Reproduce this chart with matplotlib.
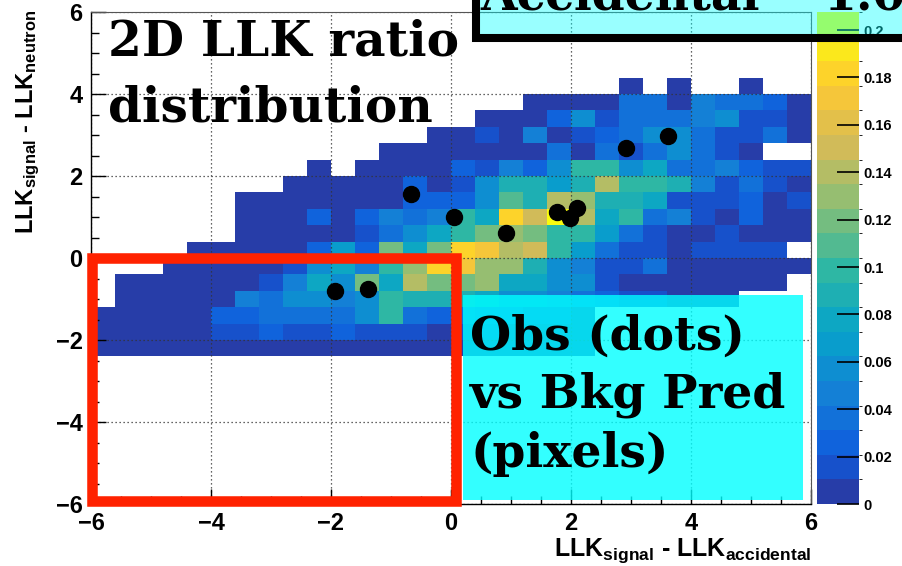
import numpy as np
import matplotlib
matplotlib.use("Agg")
import matplotlib.pyplot as plt
from matplotlib.colors import LinearSegmentedColormap, ListedColormap, BoundaryNorm
from matplotlib.patches import Rectangle
from matplotlib.ticker import MultipleLocator, FuncFormatter

plt.rcParams["mathtext.fontset"] = "custom"
plt.rcParams["mathtext.rm"] = "Liberation Sans:bold"
plt.rcParams["mathtext.it"] = "Liberation Sans:bold"
plt.rcParams["mathtext.bf"] = "Liberation Sans:bold"

# ---- data -----------------------------------------------------------------
# 2D histogram binning: 0.4 x 0.4 bins
x_edges = np.arange(-6.0, 6.0001, 0.4)
y_edges = np.arange(-2.4, 4.4001, 0.4)

# background prediction per bin, one row per y bin (bottom row first)
bkg_pred = [
    [.005, .005, .005, .005, .005, .005, .005, .005, .005, .005, .005, .005, .005, .005, .005, .005, .005, .005, .005, .005, .005, 0, 0, 0, 0, 0, 0, 0, 0, 0],
    [.005, .005, .005, .005, .005, .016, .016, .026, .016, .016, .026, .016, .016, .016, .005, .016, .016, .005, .005, .005, .005, 0, 0, 0, 0, 0, 0, 0, 0, 0],
    [.005, .005, .005, .005, .005, .026, .026, .037, .037, .037, .037, .057, .099, .037, .026, .037, .026, .026, .016, .016, .005, 0, 0, 0, 0, 0, 0, 0, 0, 0],
    [0, .005, .005, .005, .005, .005, .047, .037, .057, .057, .047, .057, .099, .089, .089, .089, .078, .057, .057, .047, .037, .026, .016, .016, .005, .005, .005, 0, 0, 0],
    [0, .005, .005, .005, .005, .005, .005, .016, .047, .078, .057, .120, .078, .141, .120, .120, .131, .078, .078, .057, .057, .016, .005, .005, .005, .005, .005, .005, .005, 0],
    [0, 0, 0, .005, .005, .005, .005, .005, .016, .057, .078, .047, .099, .131, .183, .172, .131, .131, .089, .057, .047, .016, .016, .037, .005, .005, .005, .005, .005, .005],
    [0, 0, 0, 0, .005, .005, .005, .005, .005, .026, .068, .026, .120, .078, .120, .183, .172, .141, .152, .099, .068, .037, .016, .016, .005, .016, .016, .016, .016, 0],
    [0, 0, 0, 0, 0, 0, .005, .005, .005, .005, .005, .016, .037, .057, .078, .099, .120, .131, .120, .099, .099, .068, .037, .016, .005, .005, .016, .005, .005, .005],
    [0, 0, 0, 0, 0, 0, .005, .005, .005, .026, .005, .026, .047, .037, .047, .099, .078, .183, .152, .204, .141, .078, .099, .037, .047, .016, .005, .026, .005, .005],
    [0, 0, 0, 0, 0, 0, .005, .005, .005, .005, .005, .005, .005, .026, .026, .026, .057, .110, .089, .141, .131, .089, .089, .078, .016, .016, .016, .026, .005, .016],
    [0, 0, 0, 0, 0, 0, 0, 0, .005, .005, .005, .005, .005, .026, .005, .016, .057, .089, .089, .068, .089, .141, .099, .099, .089, .047, .016, .037, .016, .005],
    [0, 0, 0, 0, 0, 0, 0, 0, 0, .005, 0, .005, .005, .005, .005, .026, .016, .047, .026, .057, .099, .099, .057, .078, .037, .037, .047, .026, .016, .016],
    [0, 0, 0, 0, 0, 0, 0, 0, 0, 0, 0, 0, .005, .005, .005, .005, .005, .005, .005, .037, .005, .037, .016, .037, .057, .037, .016, .005, 0, 0],
    [0, 0, 0, 0, 0, 0, 0, 0, 0, 0, 0, 0, 0, 0, .005, .005, .016, .005, .047, .005, .016, .026, .037, .057, .057, .037, .016, .016, .037, .005],
    [0, 0, 0, 0, 0, 0, 0, 0, 0, 0, 0, 0, 0, 0, 0, 0, .005, .005, .005, .026, .057, .016, .037, .037, .037, .047, .057, .016, .016, .005],
    [0, 0, 0, 0, 0, 0, 0, 0, 0, 0, 0, 0, 0, 0, 0, 0, 0, 0, .005, .005, .005, .005, .037, .037, .005, .047, .037, .037, .026, .005],
    [0, 0, 0, 0, 0, 0, 0, 0, 0, 0, 0, 0, 0, 0, 0, 0, 0, 0, 0, 0, 0, 0, .005, 0, .005, 0, 0, .005, 0, 0],
]

# observed events
obs_x = [-1.93, -1.38, -0.67, 0.05, 0.91, 1.76, 1.99, 2.10, 2.92, 3.62]
obs_y = [-0.80, -0.76, 1.56, 1.01, 0.60, 1.13, 0.97, 1.21, 2.68, 2.98]

z_max = 0.2076
n_levels = 20
cbar_ticks = [0, 0.02, 0.04, 0.06, 0.08, 0.1, 0.12, 0.14, 0.16, 0.18, 0.2]

# ---- colour palette (ROOT "bird") ------------------------------------------
stops = [0.0, 0.125, 0.25, 0.375, 0.5, 0.625, 0.75, 0.875, 1.0]
red = [0.2082, 0.0592, 0.0780, 0.0232, 0.1802, 0.5301, 0.8186, 0.9956, 0.9764]
green = [0.1664, 0.3599, 0.5041, 0.6419, 0.7178, 0.7492, 0.7328, 0.7862, 0.9832]
blue = [0.5293, 0.8684, 0.8385, 0.7914, 0.6425, 0.4662, 0.3499, 0.1968, 0.0539]
bird = LinearSegmentedColormap.from_list("bird", list(zip(stops, zip(red, green, blue))), N=255)
band_cols = bird((np.arange(n_levels) + 0.99) / n_levels)
cmap = ListedColormap(band_cols)
levels = np.linspace(0, z_max, n_levels + 1)
norm = BoundaryNorm(levels, n_levels)

# ---- figure ---------------------------------------------------------------
W, H = 902, 566
fig = plt.figure(figsize=(W / 100, H / 100), dpi=100)
ax = fig.add_axes([91 / W, 62 / H, 720 / W, 492 / H])

z = np.ma.masked_less_equal(np.array(bkg_pred, dtype=float), 0)
mesh = ax.pcolormesh(x_edges, y_edges, z, cmap=cmap, norm=norm, zorder=1)

ax.set_xlim(-6, 6)
ax.set_ylim(-6, 6)
ax.xaxis.set_major_locator(MultipleLocator(2))
ax.yaxis.set_major_locator(MultipleLocator(2))
ax.xaxis.set_minor_locator(MultipleLocator(0.5))
ax.yaxis.set_minor_locator(MultipleLocator(0.5))
ax.grid(True, which="major", linestyle=(0, (1, 2.2)), color="#333333", linewidth=0.9, zorder=1.5)
ax.tick_params(which="major", direction="in", length=11, width=1.0, top=False, right=False,
               labelsize=17, pad=6)
ax.tick_params(which="minor", direction="in", length=6, width=1.0, top=False, right=False)
for lab in ax.get_xticklabels() + ax.get_yticklabels():
    lab.set_fontfamily("Liberation Sans")
    lab.set_fontweight("bold")
for side in ("left", "bottom"):
    ax.spines[side].set_color("black")
    ax.spines[side].set_linewidth(1.0)
for side in ("top", "right"):
    ax.spines[side].set_color("#555555")
    ax.spines[side].set_linewidth(0.8)

ax.plot(obs_x, obs_y, "o", color="black", markersize=11.5, zorder=4)

# red selection frame
ax.add_patch(Rectangle((-5.98, -5.93), 6.07, 5.93, fill=False, edgecolor="#ff2200",
                       linewidth=7.6, zorder=5, clip_on=False))

# axis titles
fig.text(812 / W, 1 - 556 / H, r"LLK$_{signal}$ - LLK$_{accidental}$", ha="right",
         va="baseline", fontsize=18, fontfamily="Liberation Sans", fontweight="bold")
fig.text(28 / W, 1 - 10 / H, r"LLK$_{signal}$ - LLK$_{neutron}$", ha="center", va="top",
         rotation=90, fontsize=17, fontfamily="Liberation Sans", fontweight="bold")

# colour scale
cax = fig.add_axes([817 / W, 62 / H, 42 / W, 492 / H])
cb = fig.colorbar(mesh, cax=cax, ticks=cbar_ticks)
cb.outline.set_visible(False)
cax.yaxis.set_ticks_position("right")
cax.tick_params(direction="in", length=16, width=1.2, labelsize=10.5, pad=3)
cax.yaxis.set_major_formatter(FuncFormatter(lambda v, p: "%g" % v))
for lab in cax.get_yticklabels():
    lab.set_fontfamily("Liberation Sans")
    lab.set_fontweight("bold")

# annotations
serif = dict(fontfamily="DejaVu Serif", fontweight="bold", color="black")
fig.text(108 / W, 1 - 55 / H, "2D LLK ratio", va="baseline", fontsize=35, zorder=6, **serif)
fig.text(108 / W, 1 - 122 / H, "distribution", va="baseline", fontsize=35, zorder=6, **serif)

fig.add_artist(Rectangle((463 / W, 66 / H), 340 / W, 205 / H, transform=fig.transFigure,
                         facecolor=(0, 1, 1, 0.8), edgecolor="none", zorder=6))
fig.text(470 / W, 1 - 350 / H, "Obs (dots)", va="baseline", fontsize=34, zorder=7, **serif)
fig.text(470 / W, 1 - 407 / H, "vs Bkg Pred", va="baseline", fontsize=34, zorder=7, **serif)
fig.text(470 / W, 1 - 467 / H, "(pixels)", va="baseline", fontsize=34, zorder=7, **serif)

fig.add_artist(Rectangle((476 / W, 1 - 38 / H), 500 / W, 100 / H, transform=fig.transFigure,
                         facecolor=(0, 1, 1, 0.4), edgecolor="black", linewidth=5.8,
                         zorder=6, clip_on=False))
fig.text(480 / W, 1 - 10 / H, "Accidental", va="baseline", fontsize=34, zorder=7, **serif)
fig.text(823 / W, 1 - 10 / H, "1.0", va="baseline", fontsize=34, zorder=7, **serif)

fig.savefig("out.png", dpi=100)
